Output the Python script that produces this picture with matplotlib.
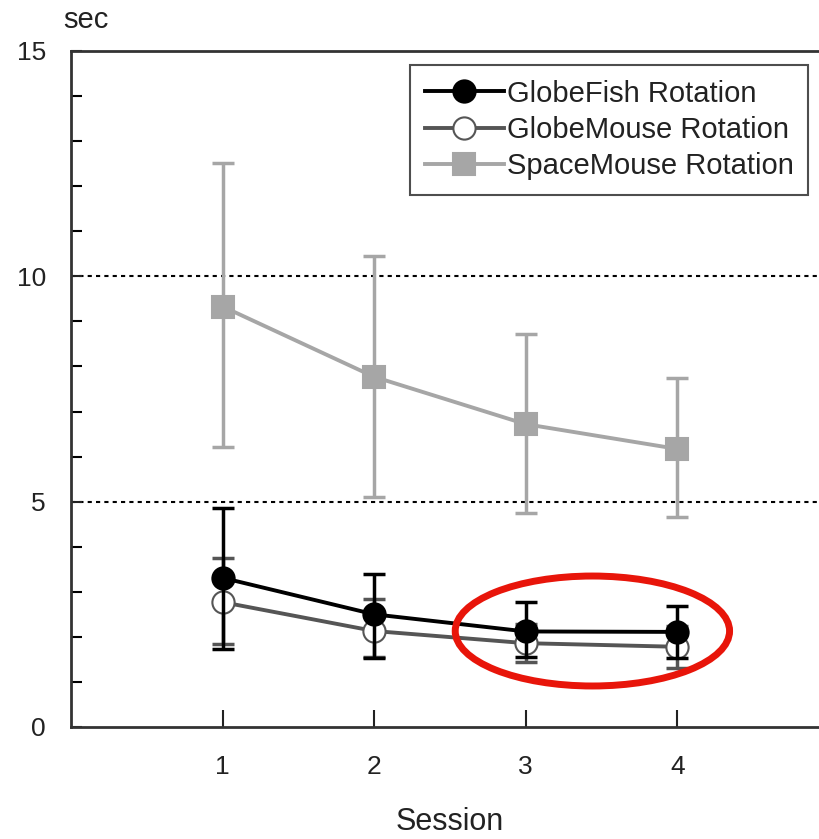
import matplotlib
matplotlib.use("Agg")
import matplotlib.pyplot as plt
from matplotlib.patches import Ellipse

plt.rcParams['font.family'] = ['Liberation Sans', 'DejaVu Sans']

sessions = [1, 2, 3, 4]

# GlobeFish Rotation
gf_mean = [3.31, 2.50, 2.12, 2.11]
gf_low = [1.72, 1.52, 1.55, 1.53]
gf_high = [4.86, 3.39, 2.77, 2.68]

# GlobeMouse Rotation
gm_mean = [2.77, 2.13, 1.86, 1.78]
gm_low = [1.85, 1.56, 1.44, 1.31]
gm_high = [3.75, 2.84, 2.28, 2.25]

# SpaceMouse Rotation
sm_mean = [9.33, 7.77, 6.72, 6.17]
sm_low = [6.22, 5.11, 4.75, 4.66]
sm_high = [12.52, 10.46, 8.72, 7.74]

series = [
    ("SpaceMouse Rotation", sm_mean, sm_low, sm_high, "#a6a6a6", "s", "#a6a6a6"),
    ("GlobeMouse Rotation", gm_mean, gm_low, gm_high, "#555555", "o", "white"),
    ("GlobeFish Rotation", gf_mean, gf_low, gf_high, "black", "o", "black"),
]

fig = plt.figure(figsize=(8.19, 8.39), dpi=100)
ax = fig.add_axes([71 / 819, 1 - 727 / 839, 1 - 71 / 819, (727 - 51) / 839])

handles = {}
for z, (name, mean, low, high, col, mk, face) in enumerate(series):
    err = [[m - l for m, l in zip(mean, low)], [h - m for m, h in zip(mean, high)]]
    ax.errorbar(sessions, mean, yerr=err, fmt='none', ecolor=col,
                elinewidth=2.5, capsize=8, capthick=2.5, zorder=3 + 2 * z)
    ln, = ax.plot(sessions, mean, color=col, lw=2.8, marker=mk, markersize=16,
                  markerfacecolor=face, markeredgecolor=col, markeredgewidth=1.5,
                  label=name, zorder=4 + 2 * z)
    handles[name] = ln

ax.set_xlim(0, 4.935)
ax.set_ylim(0, 15)

for yv in [5, 10]:
    ax.axhline(yv, color='black', lw=1.5, linestyle=(0, (2, 2)), zorder=1)

ax.spines['right'].set_visible(False)
for s in ['left', 'bottom', 'top']:
    ax.spines[s].set_color('#333333')
    ax.spines[s].set_linewidth(2)

ax.set_xticks(sessions)
ax.set_xticklabels([str(s) for s in sessions])
ax.set_yticks([0, 5, 10, 15])
ax.set_yticks(range(0, 16), minor=True)
ax.tick_params(axis='x', direction='in', length=12, width=1.5, pad=20,
               labelsize=19, colors='#222222', top=False)
ax.tick_params(axis='y', which='major', direction='in', length=8, width=1.5,
               pad=18, labelsize=19, colors='#222222', right=False)
ax.tick_params(axis='y', which='minor', direction='in', length=8, width=1.5,
               right=False)

fig.text(450 / 819, 1 - 822 / 839, "Session", ha='center', va='center',
         fontsize=22, color='#222222')
fig.text(86 / 819, 1 - 20 / 839, "sec", ha='center', va='center',
         fontsize=21, color='#222222')

order = ["GlobeFish Rotation", "GlobeMouse Rotation", "SpaceMouse Rotation"]
leg = ax.legend([handles[n] for n in order], order, loc='upper right',
                bbox_to_anchor=(808 / 819, 1 - 65 / 839),
                bbox_transform=fig.transFigure, fontsize=21, frameon=True,
                fancybox=False, shadow=False, handlelength=2.7,
                handletextpad=0.1, labelspacing=0.28, borderpad=0.5,
                borderaxespad=0)
leg.get_frame().set_edgecolor('#222222')
leg.get_frame().set_linewidth(1.5)
for t in leg.get_texts():
    t.set_color('#222222')

# red highlight ellipse around sessions 3-4
ell = Ellipse((3.44, 2.13), 1.81, 2.44, fill=False, edgecolor='#e8150a',
              lw=5, zorder=20, clip_on=False)
ax.add_patch(ell)

fig.savefig("out.png", dpi=100)
